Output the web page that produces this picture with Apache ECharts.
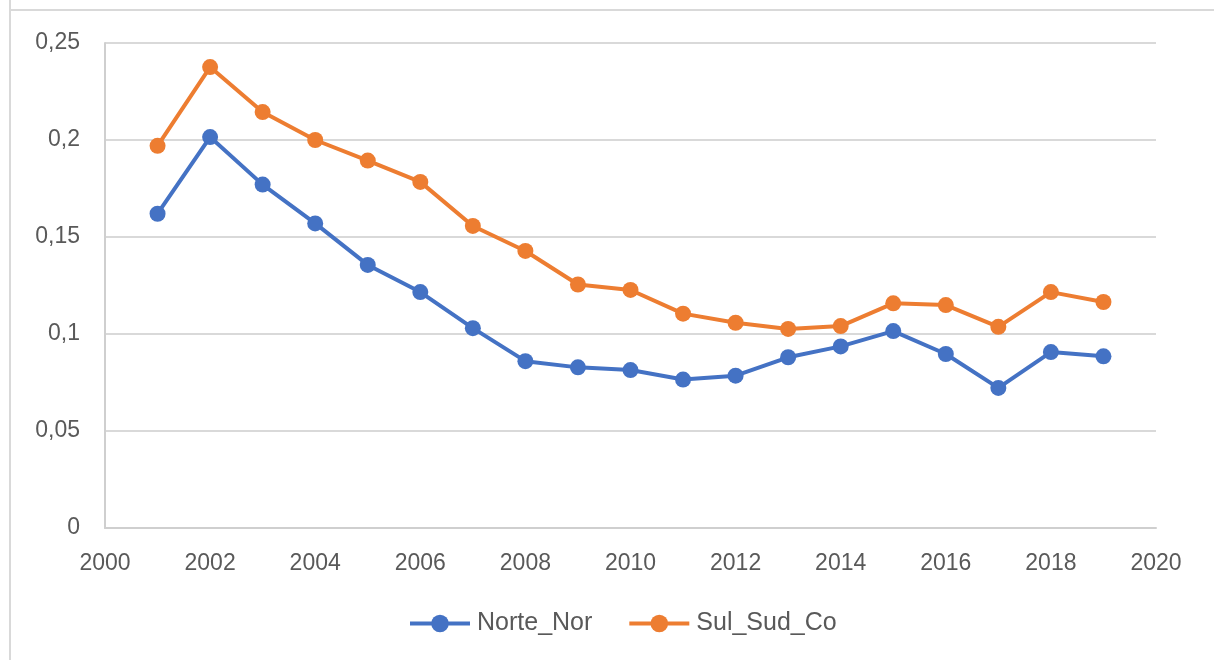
<!DOCTYPE html>
<html>
<head>
<meta charset="utf-8">
<script src="https://cdn.jsdelivr.net/npm/echarts@6/dist/echarts.min.js"></script>
<style>
  html, body {margin: 0; padding: 0; background: #fff;}
  #chart {width: 1214px; height: 660px;}
</style>
</head>
<body>
<div id="chart"></div>
<script>
// years and values
let years = [2001, 2002, 2003, 2004, 2005, 2006, 2007, 2008, 2009, 2010,
  2011, 2012, 2013, 2014, 2015, 2016, 2017, 2018, 2019];
let norte = [0.162, 0.2015, 0.177, 0.157, 0.1356, 0.1216, 0.103, 0.086, 0.0828, 0.0814,
  0.0765, 0.0785, 0.088, 0.0936, 0.1015, 0.0897, 0.0722, 0.0907, 0.0885];
let sul = [0.197, 0.2376, 0.2144, 0.2, 0.1894, 0.1784, 0.1557, 0.1428, 0.1255, 0.1227,
  0.1105, 0.1058, 0.1026, 0.1041, 0.1158, 0.1149, 0.1037, 0.1216, 0.1165];
let seriesNames = ['Norte_Nor', 'Sul_Sud_Co'];
let colors = ['#4472C4', '#ED7D31'];

let pairs = function (ys) {
  return years.map(function (y, i) {
    return [y, ys[i]];
  });
};

let textColor = '#595959';
let font = 'Liberation Sans';

let chart = echarts.init(document.getElementById('chart'));
chart.setOption({
  backgroundColor: '#fff',
  animation: false,
  color: colors,
  graphic: [
    {type: 'line', shape: {x1: 10, y1: 0, x2: 10, y2: 660}, style: {stroke: '#d9d9d9', lineWidth: 2}},
    {type: 'line', shape: {x1: 9, y1: 10, x2: 1214, y2: 10}, style: {stroke: '#d9d9d9', lineWidth: 2}}
  ],
  grid: {left: 105, right: 58, top: 43, bottom: 132},
  legend: {
    bottom: 19, left: 403,
    itemWidth: 60, itemHeight: 22, itemGap: 35,
    lineStyle: {width: 4},
    textStyle: {color: textColor, fontSize: 25, fontFamily: font, padding: [0, 0, 0, 2]},
    data: seriesNames
  },
  xAxis: {
    type: 'value', min: 2000, max: 2020, interval: 2,
    axisLine: {lineStyle: {color: '#cfcfcf', width: 2}},
    axisTick: {show: false},
    splitLine: {show: false},
    axisLabel: {
      color: textColor, fontSize: 23, fontFamily: font, margin: 24,
      formatter: function (v) {
        return String(v);
      }
    }
  },
  yAxis: {
    type: 'value', min: 0, max: 0.25, interval: 0.05,
    axisLine: {show: true, lineStyle: {color: '#cfcfcf', width: 2}},
    axisTick: {show: false},
    splitLine: {lineStyle: {color: '#d9d9d9', width: 2}},
    axisLabel: {
      color: textColor, fontSize: 23, fontFamily: font, margin: 25,
      formatter: function (v) {
        return String(Math.round(v * 100) / 100).replace('.', ',');
      }
    }
  },
  series: [
    {
      name: seriesNames[0], type: 'line', data: pairs(norte),
      symbol: 'circle', symbolSize: 16,
      lineStyle: {width: 4}
    },
    {
      name: seriesNames[1], type: 'line', data: pairs(sul),
      symbol: 'circle', symbolSize: 16,
      lineStyle: {width: 4}
    }
  ]
});
</script>
</body>
</html>
